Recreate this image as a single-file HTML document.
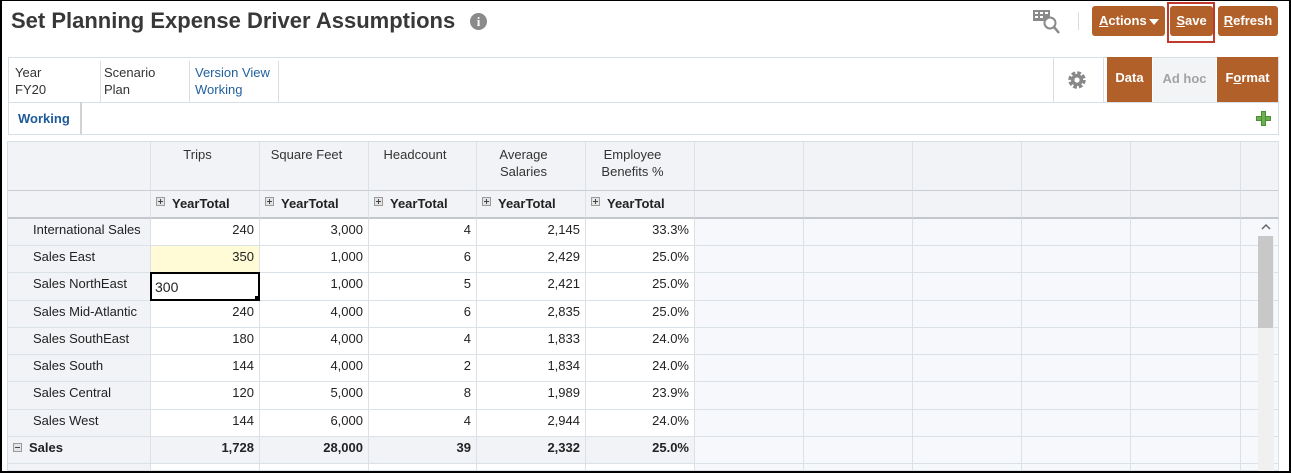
<!DOCTYPE html>
<html>
<head>
<meta charset="utf-8">
<style>
html{width:1291px;height:473px;overflow:hidden;margin:0;padding:0;}
body{margin:0;padding:0;width:1291px;height:473px;position:relative;overflow:hidden;background:#fff;font-family:"Liberation Sans",Arial,sans-serif;color:#333;}
.a{position:absolute;}
.title{left:11px;top:7px;font-size:22px;font-weight:bold;line-height:28px;color:#383838;white-space:nowrap;}
.info{left:470px;top:13px;width:17px;height:17px;border-radius:50%;background:#8a8a8a;color:#fff;font-family:"Liberation Serif",serif;font-weight:bold;font-size:13px;line-height:17px;text-align:center;}
.btn{position:absolute;background:#b1602a;color:#fff;font-weight:bold;font-size:13px;border-radius:3px;box-sizing:border-box;white-space:nowrap;}
.u{text-decoration:underline;}
.pov{left:8px;top:57px;width:1271px;height:46px;box-sizing:border-box;border:1px solid #d6dfe6;}
.pt{position:absolute;top:64px;font-size:13px;line-height:17px;color:#333;white-space:nowrap;}
.vd{position:absolute;width:1px;background:#d6dfe6;}
.g{position:absolute;box-sizing:border-box;border-right:1px solid #dae1e7;border-bottom:1px solid #dae1e7;overflow:hidden;white-space:nowrap;font-size:13px;color:#222;line-height:22px;background:#fff;}
.c0{left:8px;width:143px;background:#f1f3f6;padding-left:25px;}
.c1{left:151px;width:109px}.c2{left:260px;width:109px}.c3{left:369px;width:108px}
.c4{left:477px;width:109px}.c5{left:586px;width:109px}.c6{left:695px;width:109px}
.c7{left:804px;width:109px}.c8{left:913px;width:109px}.c9{left:1022px;width:109px}
.c10{left:1131px;width:110px}.c11{left:1241px;width:38px}
.c1,.c2,.c3,.c4,.c5{text-align:right;padding-right:5px;}
.c6,.c7,.c8,.c9,.c10,.c11{background:#f6f8fb;}
.h1{top:142px;height:49px;background:#f1f3f6 !important;border-bottom:1px solid #c9cdd1;text-align:center !important;padding:4px 15px 0 0 !important;line-height:17px;color:#333;white-space:normal;}
.h2{top:191px;height:28px;background:#f1f3f6 !important;border-bottom:2px solid #c4c8cc;text-align:left !important;padding:0 0 0 21px !important;line-height:26px;font-weight:bold;color:#222;}
.r0{top:219px;height:27px}.r1{top:246px;height:27px}.r2{top:273px;height:28px}
.r3{top:301px;height:27px}.r4{top:328px;height:27px}.r5{top:355px;height:27px}
.r6{top:382px;height:28px}.r7{top:410px;height:27px}.r8{top:437px;height:27px}
.r9{top:464px;height:7px}
.r8{font-weight:bold;}
.r8.c1,.r8.c2,.r8.c3,.r8.c4,.r8.c5{background:#f1f3f6;}
.pb{position:absolute;left:5px;top:6px;width:9px;height:9px;box-sizing:border-box;border:1px solid #9a9a9a;background:#e4e4e4;}
.pb:before{content:"";position:absolute;left:1px;top:3px;width:5px;height:1px;background:#444;}
.pb:after{content:"";position:absolute;left:3px;top:1px;width:1px;height:5px;background:#444;}
.mb:after{display:none;}
.frame{position:absolute;background:#000;z-index:10;}
</style>
</head>
<body>

<div class="a title">Set Planning Expense Driver Assumptions</div>
<div class="a info">i</div>

<!-- toolbar icon -->
<svg class="a" style="left:1033px;top:8px" width="28" height="26">
 <rect x="0" y="2" width="17" height="11" fill="#8a8a8a"/>
 <rect x="2" y="4" width="3" height="2" fill="#fff"/><rect x="7" y="4" width="3" height="2" fill="#fff"/><rect x="12" y="4" width="3" height="2" fill="#fff"/>
 <rect x="2" y="8" width="3" height="2" fill="#fff"/><rect x="7" y="8" width="3" height="2" fill="#fff"/>
 <circle cx="17" cy="15" r="5.5" fill="#fff" stroke="#8a8a8a" stroke-width="2"/>
 <line x1="21" y1="19" x2="26" y2="25" stroke="#8a8a8a" stroke-width="2.5"/>
</svg>
<div class="a" style="left:1078px;top:12px;width:1px;height:18px;background:#dcdcdc"></div>

<div class="btn" style="left:1092px;top:6px;width:73px;height:30px;line-height:30px;padding-left:7px;"><span class="u">A</span>ctions</div>
<div class="a" style="left:1149px;top:19px;width:0;height:0;border-left:5px solid transparent;border-right:5px solid transparent;border-top:6px solid #fff"></div>
<div class="a" style="left:1167px;top:2px;width:48px;height:41px;box-sizing:border-box;border:2px solid #c0392b"></div>
<div class="btn" style="left:1170px;top:6px;width:43px;height:30px;line-height:30px;text-align:center;"><span class="u">S</span>ave</div>
<div class="btn" style="left:1218px;top:6px;width:60px;height:30px;line-height:30px;text-align:center;"><span class="u">R</span>efresh</div>

<!-- POV bar -->
<div class="a pov"></div>
<div class="pt" style="left:15px">Year<br>FY20</div>
<div class="vd" style="left:100px;top:61px;height:41px"></div>
<div class="pt" style="left:104px">Scenario<br>Plan</div>
<div class="vd" style="left:189px;top:61px;height:41px"></div>
<div class="pt" style="left:195px;color:#1f5f9e">Version View<br>Working</div>
<div class="vd" style="left:278px;top:61px;height:41px"></div>
<div class="vd" style="left:1053px;top:57px;height:46px"></div>
<div class="vd" style="left:1103px;top:57px;height:46px"></div>
<svg class="a" style="left:1067px;top:70px" width="20" height="20" viewBox="0 0 20 20">
 <circle cx="10" cy="10" r="7" fill="none" stroke="#888" stroke-width="3.5" stroke-dasharray="3.6 1.9"/>
 <circle cx="10" cy="10" r="6" fill="#888"/>
 <circle cx="10" cy="10" r="2.6" fill="#fff"/>
</svg>
<div class="btn" style="left:1107px;top:57px;width:45px;height:45px;line-height:42px;text-align:center;border-radius:0;">Data</div>
<div class="a" style="left:1153px;top:57px;width:63px;height:45px;background:#f2f4f6;border-top:1px solid #d6dfe6;box-sizing:border-box;color:#a3a3a3;font-weight:bold;font-size:13px;line-height:41px;text-align:center;">Ad hoc</div>
<div class="btn" style="left:1217px;top:57px;width:61px;height:45px;line-height:42px;text-align:center;border-radius:0;">F<span class="u">o</span>rmat</div>

<!-- tab bar -->
<div class="a" style="left:8px;top:102px;width:1271px;height:33px;box-sizing:border-box;border-left:1px solid #d6dfe6;border-right:1px solid #d6dfe6;border-bottom:1px solid #d6dfe6;"></div>
<div class="a" style="left:18px;top:110px;font-size:13px;font-weight:bold;color:#1e5a9a;line-height:17px;">Working</div>
<div class="a" style="left:80px;top:102px;width:2px;height:32px;background:#cfd3d6"></div>
<div class="a" style="left:1256px;top:116px;width:15px;height:5px;background:#6ab04c;border:1px solid #4d8d3a;box-sizing:border-box"></div>
<div class="a" style="left:1261px;top:111px;width:5px;height:15px;background:#6ab04c;border:1px solid #4d8d3a;box-sizing:border-box"></div>
<div class="a" style="left:1262px;top:117px;width:3px;height:3px;background:#6ab04c"></div>

<!-- grid frame -->
<div class="a" style="left:8px;top:141px;width:1271px;height:1px;background:#d6dfe6"></div>
<div class="a" style="left:7px;top:141px;width:1px;height:332px;background:#d6dfe6"></div>

<!-- header row 1 -->
<div class="g h1 c0"></div>
<div class="g h1 c1">Trips</div>
<div class="g h1 c2">Square Feet</div>
<div class="g h1 c3">Headcount</div>
<div class="g h1 c4">Average<br>Salaries</div>
<div class="g h1 c5">Employee<br>Benefits %</div>
<div class="g h1 c6"></div><div class="g h1 c7"></div><div class="g h1 c8"></div><div class="g h1 c9"></div><div class="g h1 c10"></div><div class="g h1 c11"></div>

<!-- header row 2 -->
<div class="g h2 c0"></div>
<div class="g h2 c1"><span class="pb"></span>YearTotal</div>
<div class="g h2 c2"><span class="pb"></span>YearTotal</div>
<div class="g h2 c3"><span class="pb"></span>YearTotal</div>
<div class="g h2 c4"><span class="pb"></span>YearTotal</div>
<div class="g h2 c5"><span class="pb"></span>YearTotal</div>
<div class="g h2 c6"></div><div class="g h2 c7"></div><div class="g h2 c8"></div><div class="g h2 c9"></div><div class="g h2 c10"></div><div class="g h2 c11"></div>

<!-- data rows -->
<div class="g r0 c0">International Sales</div><div class="g r0 c1">240</div><div class="g r0 c2">3,000</div><div class="g r0 c3">4</div><div class="g r0 c4">2,145</div><div class="g r0 c5">33.3%</div>
<div class="g r0 c6"></div><div class="g r0 c7"></div><div class="g r0 c8"></div><div class="g r0 c9"></div><div class="g r0 c10"></div><div class="g r0 c11"></div>

<div class="g r1 c0">Sales East</div><div class="g r1 c1" style="background:#fefbd6">350</div><div class="g r1 c2">1,000</div><div class="g r1 c3">6</div><div class="g r1 c4">2,429</div><div class="g r1 c5">25.0%</div>
<div class="g r1 c6"></div><div class="g r1 c7"></div><div class="g r1 c8"></div><div class="g r1 c9"></div><div class="g r1 c10"></div><div class="g r1 c11"></div>

<div class="g r2 c0">Sales NorthEast</div><div class="g r2 c1"></div><div class="g r2 c2">1,000</div><div class="g r2 c3">5</div><div class="g r2 c4">2,421</div><div class="g r2 c5">25.0%</div>
<div class="g r2 c6"></div><div class="g r2 c7"></div><div class="g r2 c8"></div><div class="g r2 c9"></div><div class="g r2 c10"></div><div class="g r2 c11"></div>

<div class="g r3 c0">Sales Mid-Atlantic</div><div class="g r3 c1">240</div><div class="g r3 c2">4,000</div><div class="g r3 c3">6</div><div class="g r3 c4">2,835</div><div class="g r3 c5">25.0%</div>
<div class="g r3 c6"></div><div class="g r3 c7"></div><div class="g r3 c8"></div><div class="g r3 c9"></div><div class="g r3 c10"></div><div class="g r3 c11"></div>

<div class="g r4 c0">Sales SouthEast</div><div class="g r4 c1">180</div><div class="g r4 c2">4,000</div><div class="g r4 c3">4</div><div class="g r4 c4">1,833</div><div class="g r4 c5">24.0%</div>
<div class="g r4 c6"></div><div class="g r4 c7"></div><div class="g r4 c8"></div><div class="g r4 c9"></div><div class="g r4 c10"></div><div class="g r4 c11"></div>

<div class="g r5 c0">Sales South</div><div class="g r5 c1">144</div><div class="g r5 c2">4,000</div><div class="g r5 c3">2</div><div class="g r5 c4">1,834</div><div class="g r5 c5">24.0%</div>
<div class="g r5 c6"></div><div class="g r5 c7"></div><div class="g r5 c8"></div><div class="g r5 c9"></div><div class="g r5 c10"></div><div class="g r5 c11"></div>

<div class="g r6 c0">Sales Central</div><div class="g r6 c1">120</div><div class="g r6 c2">5,000</div><div class="g r6 c3">8</div><div class="g r6 c4">1,989</div><div class="g r6 c5">23.9%</div>
<div class="g r6 c6"></div><div class="g r6 c7"></div><div class="g r6 c8"></div><div class="g r6 c9"></div><div class="g r6 c10"></div><div class="g r6 c11"></div>

<div class="g r7 c0">Sales West</div><div class="g r7 c1">144</div><div class="g r7 c2">6,000</div><div class="g r7 c3">4</div><div class="g r7 c4">2,944</div><div class="g r7 c5">24.0%</div>
<div class="g r7 c6"></div><div class="g r7 c7"></div><div class="g r7 c8"></div><div class="g r7 c9"></div><div class="g r7 c10"></div><div class="g r7 c11"></div>

<div class="g r8 c0" style="padding-left:21px"><span class="pb mb"></span>Sales</div><div class="g r8 c1">1,728</div><div class="g r8 c2">28,000</div><div class="g r8 c3">39</div><div class="g r8 c4">2,332</div><div class="g r8 c5">25.0%</div>
<div class="g r8 c6"></div><div class="g r8 c7"></div><div class="g r8 c8"></div><div class="g r8 c9"></div><div class="g r8 c10"></div><div class="g r8 c11"></div>

<div class="g r9 c0"></div><div class="g r9 c1"></div><div class="g r9 c2"></div><div class="g r9 c3"></div><div class="g r9 c4"></div><div class="g r9 c5"></div>
<div class="g r9 c6"></div><div class="g r9 c7"></div><div class="g r9 c8"></div><div class="g r9 c9"></div><div class="g r9 c10"></div><div class="g r9 c11"></div>

<!-- edit cell -->
<div class="a" style="left:150px;top:272px;width:110px;height:29px;box-sizing:border-box;border:2px solid #000;background:#fff;font-size:14px;color:#222;line-height:20px;padding:3px 0 0 3px;">300</div>
<div class="a" style="left:255px;top:296px;width:5px;height:5px;background:#000"></div>

<!-- scrollbar -->
<div class="a" style="left:1258px;top:219px;width:16px;height:252px;background:#f0f0f0"></div>
<div class="a" style="left:1258px;top:219px;width:16px;height:17px;background:#f6f8fb"></div>
<svg class="a" style="left:1261px;top:223px" width="10" height="8"><polyline points="1,6 5,2 9,6" fill="none" stroke="#666" stroke-width="1.5"/></svg>
<div class="a" style="left:1258px;top:236px;width:15px;height:92px;background:#c8c8c8"></div>

<!-- outer frame -->
<div class="frame" style="left:0;top:0;width:1291px;height:1px;"></div>
<div class="frame" style="left:0;top:0;width:2px;height:473px;"></div>
<div class="frame" style="left:1289px;top:0;width:2px;height:473px;"></div>
<div class="frame" style="left:0;top:471px;width:1291px;height:2px;"></div>

</body>
</html>
